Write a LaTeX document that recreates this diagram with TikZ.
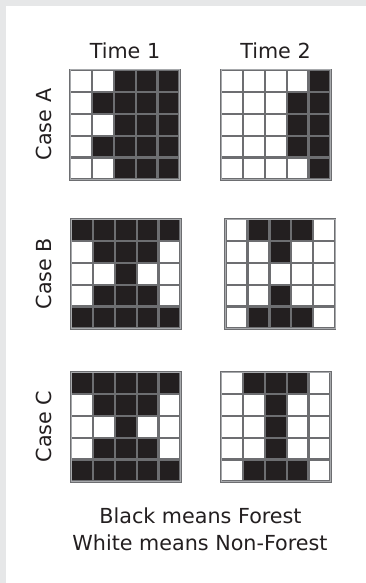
\documentclass[tikz,border=0pt]{standalone}
\usepackage{fontspec}
\setmainfont{DejaVu Sans}
\usepackage{xcolor}
\usetikzlibrary{positioning}

\definecolor{forest}{HTML}{231F20}
\definecolor{gridline}{HTML}{6D6E71}
\definecolor{gridedge}{HTML}{A7A9AC}
\definecolor{panel}{HTML}{E6E7E8}

% one 5x5 grid: name, left, top, rows (0 = non-forest, 1 = forest)
\newcommand{\forestgrid}[4]{%
  \foreach \row [count=\r] in {#4} {
    \foreach \v [count=\c] in \row {
      \node[cell\v] (#1-\r-\c) at (#2+\c*21.9-10.95, #3+\r*21.9-10.95) {};
    }
  }
  \draw[frame] (#1-1-1.north west) rectangle (#1-5-5.south east);
}

\begin{document}
\begin{tikzpicture}[
    x=1pt, y=-1pt,
    cell/.style={rectangle, draw=gridline, line width=2.4pt,
                 minimum size=21.9pt, inner sep=0pt, outer sep=0pt},
    cell0/.style={cell, fill=white},
    cell1/.style={cell, fill=forest},
    frame/.style={draw=gridedge, line width=1pt},
    txt/.style={font=\fontsize{20.7}{27}\selectfont, text=forest, inner sep=0pt}
]

% panel
\useasboundingbox (0,0) rectangle (366,583);
\fill[panel] (0,0) rectangle (366,583);
\fill[white] (6,6) rectangle (366,583);

% column titles
\node[txt, anchor=base] (time1) at (125,59) {Time 1};
\node[txt, anchor=base] (time2) at (275.5,59) {Time 2};

% Case A
\forestgrid{a1}{70}{70}{{0,0,1,1,1},{0,1,1,1,1},{0,0,1,1,1},{0,1,1,1,1},{0,0,1,1,1}}
\forestgrid{a2}{221}{70}{{0,0,0,0,1},{0,0,0,1,1},{0,0,0,1,1},{0,0,0,1,1},{0,0,0,0,1}}
\node[txt, rotate=90] (casea) at (44,124.5) {Case A};

% Case B
\forestgrid{b1}{71}{219}{{1,1,1,1,1},{0,1,1,1,0},{0,0,1,0,0},{0,1,1,1,0},{1,1,1,1,1}}
\forestgrid{b2}{225.5}{219}{{0,1,1,1,0},{0,0,1,0,0},{0,0,0,0,0},{0,0,1,0,0},{0,1,1,1,0}}
\node[txt, rotate=90] (caseb) at (44,273.5) {Case B};

% Case C
\forestgrid{c1}{71}{372}{{1,1,1,1,1},{0,1,1,1,0},{0,0,1,0,0},{0,1,1,1,0},{1,1,1,1,1}}
\forestgrid{c2}{221}{372}{{0,1,1,1,0},{0,0,1,0,0},{0,0,1,0,0},{0,0,1,0,0},{0,1,1,1,0}}
\node[txt, rotate=90] (casec) at (44,426.5) {Case C};

% legend
\node[txt, anchor=base] (black) at (200.5,523) {Black means Forest};
\node[txt, anchor=base] (white) at (200,550) {White means Non-Forest};

\end{tikzpicture}
\end{document}
